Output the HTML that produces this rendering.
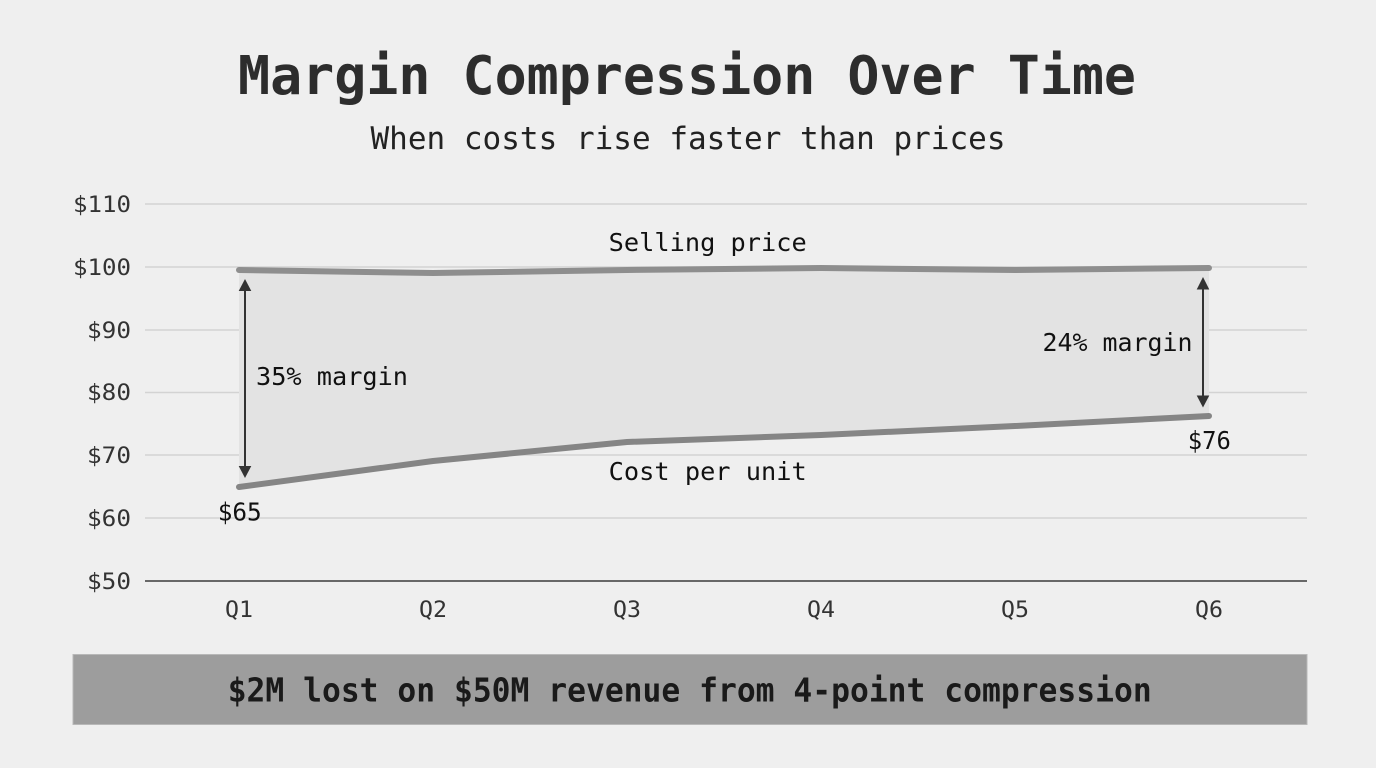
<!DOCTYPE html>
<html>
<head>
<meta charset="utf-8">
<style>
  html, body { margin:0; padding:0; background:#efefef; }
  body { width:1376px; height:768px; overflow:hidden; }
  svg { display:block; }
  text { font-family: "DejaVu Sans Mono", "Liberation Mono", monospace; }
</style>
</head>
<body>
<svg width="1376" height="768" viewBox="0 0 1376 768" xmlns="http://www.w3.org/2000/svg">
  <rect x="0" y="0" width="1376" height="768" fill="#efefef"/>

  <!-- Title -->
  <text x="687" y="94" font-size="53.5" font-weight="bold" fill="#2d2d2d" text-anchor="middle" textLength="898" lengthAdjust="spacingAndGlyphs">Margin Compression Over Time</text>
  <text x="688" y="149" font-size="31" fill="#222" text-anchor="middle" textLength="635" lengthAdjust="spacingAndGlyphs">When costs rise faster than prices</text>

  <!-- Gridlines -->
  <g stroke="#d3d3d3" stroke-width="1.5">
    <line x1="145" y1="204" x2="1307" y2="204"/>
    <line x1="145" y1="267" x2="1307" y2="267"/>
    <line x1="145" y1="330" x2="1307" y2="330"/>
    <line x1="145" y1="392.5" x2="1307" y2="392.5"/>
    <line x1="145" y1="455" x2="1307" y2="455"/>
    <line x1="145" y1="518" x2="1307" y2="518"/>
  </g>
  <line x1="145" y1="581" x2="1307" y2="581" stroke="#555" stroke-width="1.8"/>

  <!-- Y labels -->
  <g font-size="22" fill="#333" text-anchor="end">
    <text x="131" y="212" textLength="58" lengthAdjust="spacingAndGlyphs">$110</text>
    <text x="131" y="275" textLength="58" lengthAdjust="spacingAndGlyphs">$100</text>
    <text x="131" y="338" textLength="44" lengthAdjust="spacingAndGlyphs">$90</text>
    <text x="131" y="400" textLength="44" lengthAdjust="spacingAndGlyphs">$80</text>
    <text x="131" y="463" textLength="44" lengthAdjust="spacingAndGlyphs">$70</text>
    <text x="131" y="526" textLength="44" lengthAdjust="spacingAndGlyphs">$60</text>
    <text x="131" y="589" textLength="44" lengthAdjust="spacingAndGlyphs">$50</text>
  </g>

  <!-- X labels -->
  <g font-size="22.5" fill="#333" text-anchor="middle">
    <text x="239" y="617" textLength="28" lengthAdjust="spacingAndGlyphs">Q1</text>
    <text x="433" y="617" textLength="28" lengthAdjust="spacingAndGlyphs">Q2</text>
    <text x="627" y="617" textLength="28" lengthAdjust="spacingAndGlyphs">Q3</text>
    <text x="821" y="617" textLength="28" lengthAdjust="spacingAndGlyphs">Q4</text>
    <text x="1015" y="617" textLength="28" lengthAdjust="spacingAndGlyphs">Q5</text>
    <text x="1209" y="617" textLength="28" lengthAdjust="spacingAndGlyphs">Q6</text>
  </g>

  <!-- Margin fill -->
  <polygon fill="#e3e3e3" points="239,270 433,273 627,270 821,268 1015,270 1209,268 1209,416 1015,426 821,435 627,442 433,461 239,487"/>

  <!-- Lines -->
  <polyline fill="none" stroke="#8e8e8e" stroke-width="6" stroke-linecap="round" stroke-linejoin="round"
    points="239,270 433,273 627,270 821,268 1015,270 1209,268"/>
  <polyline fill="none" stroke="#858585" stroke-width="6" stroke-linecap="round" stroke-linejoin="round"
    points="239,487 433,461 627,442 821,435 1015,426 1209,416"/>

  <!-- Arrows -->
  <g fill="#333" stroke="#333">
    <line x1="245" y1="289" x2="245" y2="468" stroke-width="2"/>
    <polygon points="245,279 238.7,291 251.3,291" stroke="none"/>
    <polygon points="245,478 238.7,466 251.3,466" stroke="none"/>
    <line x1="1203" y1="288" x2="1203" y2="397" stroke-width="2"/>
    <polygon points="1203,277 1196.7,289.5 1209.3,289.5" stroke="none"/>
    <polygon points="1203,407.5 1196.7,395.5 1209.3,395.5" stroke="none"/>
  </g>

  <!-- Annotations -->
  <g font-size="25" fill="#111">
    <text x="707.7" y="251" text-anchor="middle" textLength="198" lengthAdjust="spacingAndGlyphs">Selling price</text>
    <text x="707.7" y="480" text-anchor="middle" textLength="198" lengthAdjust="spacingAndGlyphs">Cost per unit</text>
    <text x="256" y="385" textLength="152" lengthAdjust="spacingAndGlyphs">35% margin</text>
    <text x="1042.5" y="351" textLength="150" lengthAdjust="spacingAndGlyphs">24% margin</text>
    <text x="239.7" y="520.5" text-anchor="middle" textLength="44" lengthAdjust="spacingAndGlyphs">$65</text>
    <text x="1209.3" y="449" text-anchor="middle" textLength="43" lengthAdjust="spacingAndGlyphs">$76</text>
  </g>

  <!-- Banner -->
  <rect x="73" y="654.5" width="1234" height="70" fill="#9d9d9d" stroke="#b8b8b8" stroke-width="1"/>
  <text x="689.7" y="701.5" font-size="33" font-weight="bold" fill="#1a1a1a" text-anchor="middle" textLength="924" lengthAdjust="spacingAndGlyphs">$2M lost on $50M revenue from 4-point compression</text>
</svg>
</body>
</html>
